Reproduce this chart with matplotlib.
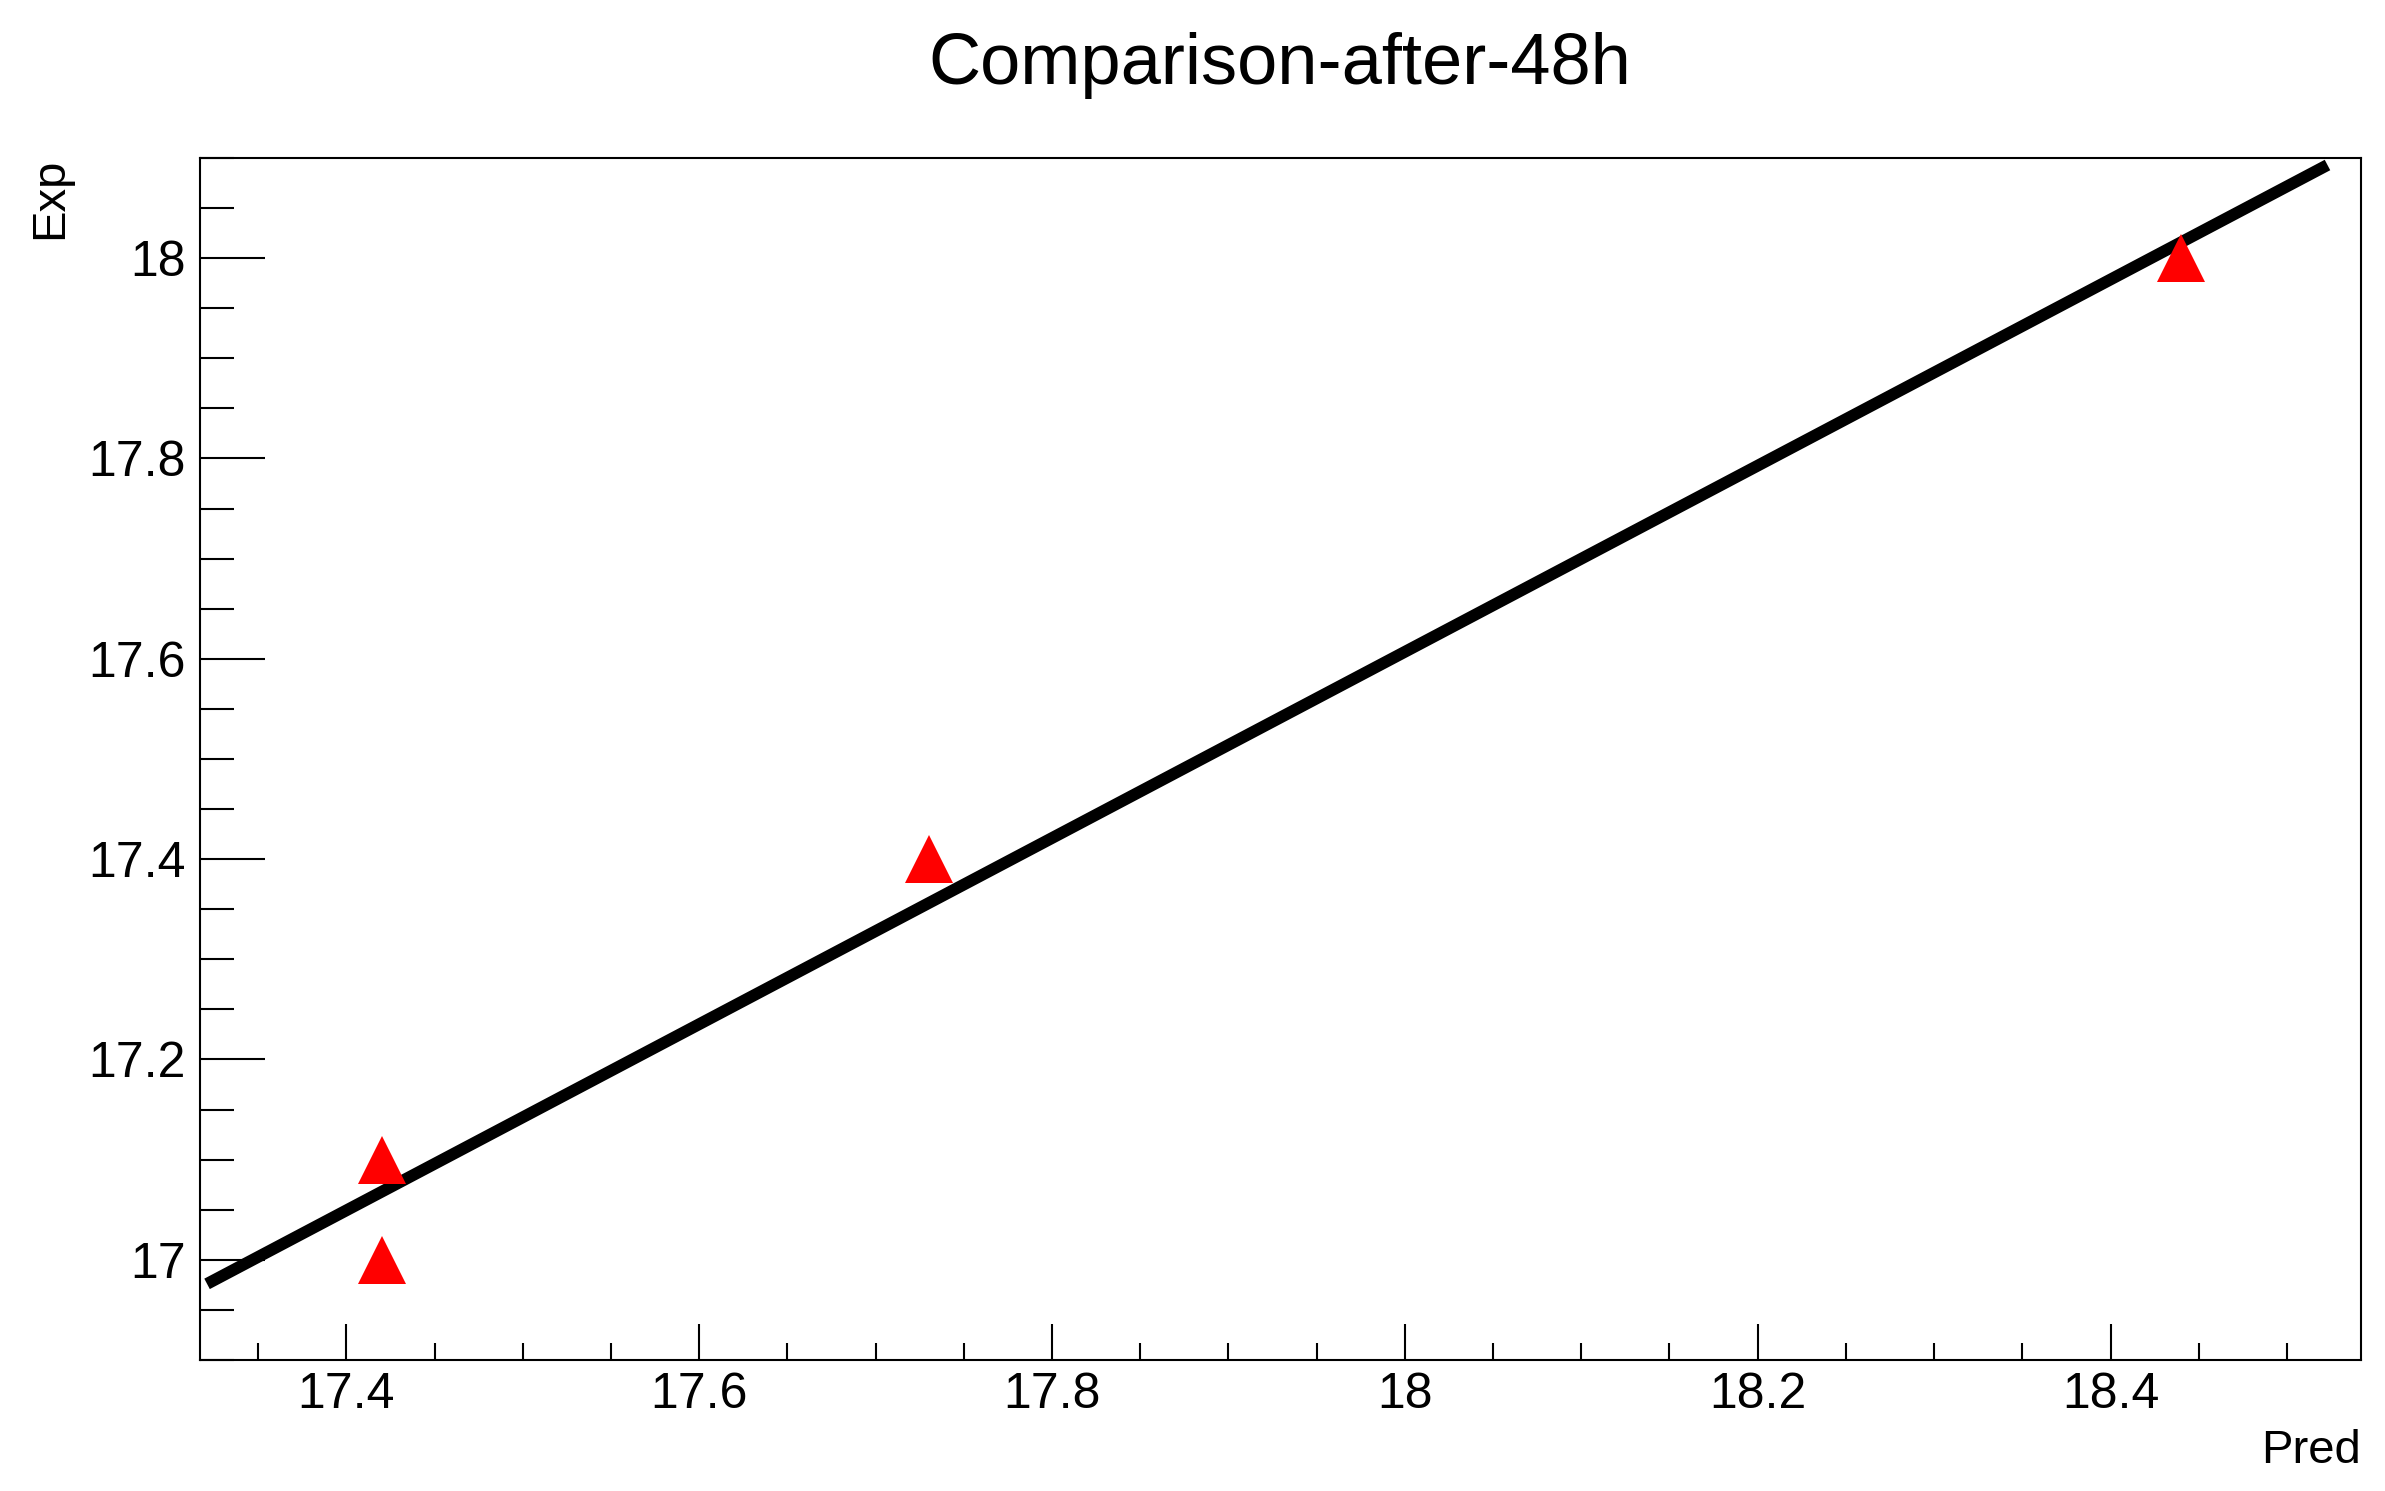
import matplotlib

matplotlib.use("Agg")
import matplotlib.pyplot as plt
from matplotlib.ticker import FormatStrFormatter, MultipleLocator

plt.rcParams["font.family"] = ["Liberation Sans", "DejaVu Sans"]

# --- data ---
title = "Comparison-after-48h"
x_label = "Pred"
y_label = "Exp"

pred = [17.42, 17.42, 17.73, 18.44]
exp = [17.10, 17.00, 17.40, 18.00]

# straight-line fit drawn over the points (end points)
fit_x = [17.321, 18.523]
fit_y = [16.976, 18.093]

x_range = (17.317, 18.542)
y_range = (16.90, 18.10)

# --- figure ---
W, H = 2385, 1491
fig = plt.figure(figsize=(W / 100, H / 100), dpi=100)
ax = fig.add_axes([200 / W, 1 - 1360 / H, 2161 / W, 1202 / H])

ax.plot(fit_x, fit_y, color="black", lw=8.5, solid_capstyle="butt", zorder=2)
ax.plot(pred, exp, ls="none", marker="^", ms=34, color="red", mew=0, zorder=3)

ax.set_xlim(*x_range)
ax.set_ylim(*y_range)

ax.xaxis.set_major_locator(MultipleLocator(0.2))
ax.xaxis.set_minor_locator(MultipleLocator(0.05))
ax.yaxis.set_major_locator(MultipleLocator(0.2))
ax.yaxis.set_minor_locator(MultipleLocator(0.05))
ax.xaxis.set_major_formatter(FormatStrFormatter("%g"))
ax.yaxis.set_major_formatter(FormatStrFormatter("%g"))

for s in ax.spines.values():
    s.set_linewidth(1.5)

ax.tick_params(axis="both", which="both", direction="in", top=False, right=False,
               width=1.5, labelsize=36)
ax.tick_params(axis="x", which="major", length=26, pad=9)
ax.tick_params(axis="x", which="minor", length=12)
ax.tick_params(axis="y", which="major", length=47, pad=10)
ax.tick_params(axis="y", which="minor", length=24.5)

fig.text(1280 / W, 1 - 84 / H, title, ha="center", va="baseline", fontsize=52)
fig.text(2361 / W, 1 - 1463 / H, x_label, ha="right", va="baseline", fontsize=34)
fig.text(50 / W, 1 - 158 / H, y_label, ha="center", va="top", rotation=90, fontsize=34)

fig.savefig("out.png", dpi=100, facecolor="white")
